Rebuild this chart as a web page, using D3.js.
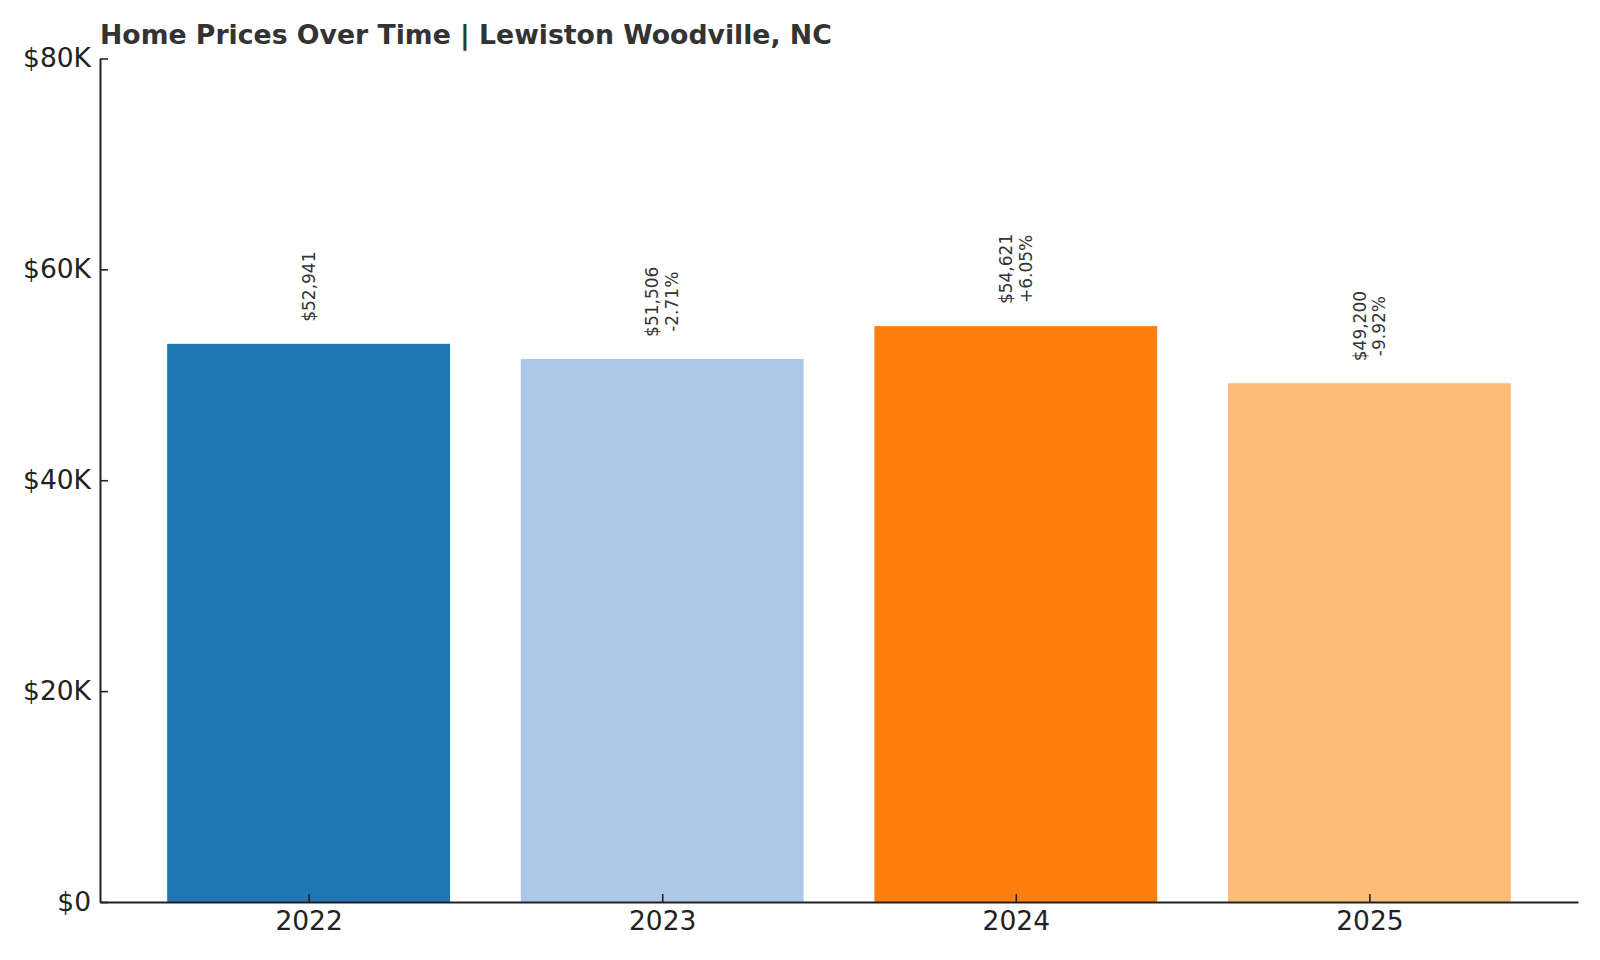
<!DOCTYPE html>
<meta charset="utf-8">
<style>
body { margin: 0; background: #fff; }
text { font-family: "DejaVu Sans", sans-serif; }
</style>
<svg width="1600" height="960"></svg>
<script src="https://d3js.org/d3.v7.min.js"></script>
<script>

var years = ["2022", "2023", "2024", "2025"];
var prices = [52941, 51506, 54621, 49200];
var changes = [null, "-2.71%", "+6.05%", "-9.92%"];
var colors = ["#1f77b4", "#aec7e8", "#ff7f0e", "#ffbb78"];
var yTicks = [0, 20000, 40000, 60000, 80000];

var svg = d3.select("svg"),
    margin = {top: 58.5, right: 22, bottom: 58, left: 100},
    width = +svg.attr("width") - margin.left - margin.right,
    height = +svg.attr("height") - margin.top - margin.bottom,
    g = svg.append("g").attr("transform", "translate(" + margin.left + "," + margin.top + ")");

// matplotlib style: bars of width 0.8 at integer positions, 5% margins
var x = d3.scaleLinear()
    .domain([-0.59, years.length - 1 + 0.59])
    .range([0, width]);

var y = d3.scaleLinear()
    .domain([0, 80000])
    .range([height, 0]);

var barW = x(0.8) - x(0);

g.selectAll(".bar")
    .data(prices)
    .enter().append("rect")
    .attr("class", "bar")
    .attr("x", function(d, i) { return x(i) - barW / 2; })
    .attr("y", function(d) { return y(d); })
    .attr("width", barW)
    .attr("height", function(d) { return y(0) - y(d); })
    .attr("fill", function(d, i) { return colors[i]; });

// value labels, rotated, stacked lines centred on bar
var fmt = d3.format(",");
var lineH = 19.5;
prices.forEach(function(d, i) {
  var lines = ["$" + fmt(d)];
  if (changes[i]) lines.push(changes[i]);
  var lab = g.append("text")
      .attr("fill", "#333")
      .style("font-size", "17px")
      .attr("text-anchor", "middle")
      .attr("transform", "translate(" + x(i) + "," + y(d) + ") rotate(-90)");
  lines.forEach(function(t, j) {
    lab.append("tspan").text(t)
        .attr("y", 6 - (lines.length - 1) * lineH / 2 + j * lineH);
  });
  var maxLen = d3.max(lab.selectAll("tspan").nodes(), function(n) { return n.getComputedTextLength(); });
  lab.selectAll("tspan").attr("x", 22 + maxLen / 2);
});

// axes
var xAxis = g.append("g")
    .attr("transform", "translate(0," + height + ")")
    .call(d3.axisBottom(x)
      .tickValues(d3.range(years.length))
      .tickFormat(function(i) { return years[i]; })
      .tickSizeInner(-8)
      .tickSizeOuter(0)
      .tickPadding(9));

var yAxis = g.append("g")
    .call(d3.axisLeft(y)
      .tickValues(yTicks)
      .tickFormat(function(d) { return "$" + (d === 0 ? "0" : d / 1000 + "K"); })
      .tickSizeInner(-8)
      .tickSizeOuter(0)
      .tickPadding(9));

[xAxis, yAxis].forEach(function(a) {
  a.select(".domain").attr("stroke", "#222").attr("stroke-width", 2);
  a.selectAll(".tick line").attr("stroke", "#222").attr("stroke-width", 1.6);
  a.selectAll(".tick text").attr("fill", "#222").style("font-size", "26.5px").style("font-family", "DejaVu Sans");
});

svg.append("text")
    .attr("x", 100)
    .attr("y", 44)
    .attr("fill", "#333")
    .style("font-size", "26.7px")
    .style("font-weight", "bold")
    .text("Home Prices Over Time | Lewiston Woodville, NC");

</script>
